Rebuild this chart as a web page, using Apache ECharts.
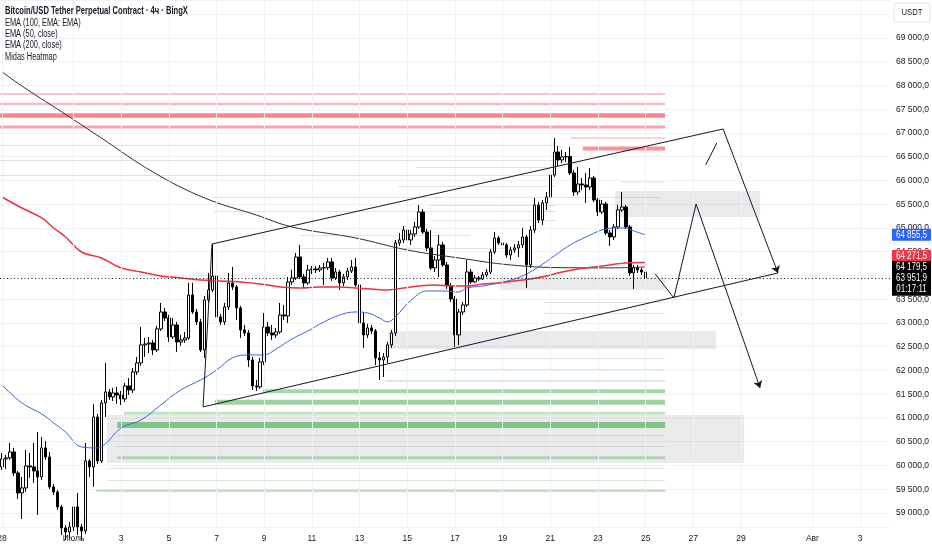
<!DOCTYPE html>
<html><head><meta charset="utf-8">
<script src="https://cdn.jsdelivr.net/npm/echarts@6/dist/echarts.min.js"></script>
<style>html,body{margin:0;padding:0;background:#fff}#c{width:932px;height:550px}</style>
</head><body><div id="c"></div><script>
const FONT = '"Liberation Sans",Arial,sans-serif';
const TXT = '#131722';

// ---- x axis: 4h slots, day ticks ----
const slotCount = 224;
const tickDates  = ['06-28','07-01','07-03','07-05','07-07','07-09','07-11','07-13','07-15','07-17','07-19','07-21','07-23','07-25','07-27','07-29','08-01','08-03'];
const tickLabels = ['28','Июль','3','5','7','9','11','13','15','17','19','21','23','25','27','29','Авг','3'];

// ---- price axis ----
const priceMin = 58705, priceMax = 69800;

// ---- candles [open, close, low, high] (4h, from 28 June 00:00) ----
const candles = [
[59970,60138,59906,60264],[60138,60159,59928,60222],[60159,60285,60117,60475],[60285,59843,59780,60370],
[59843,59422,59296,59885],[59422,59528,58875,59759],[59528,59991,59443,60327],[59991,59970,59738,60264],
[59970,59885,59633,60475],[59885,59759,58959,60706],[59759,60370,59696,60601],[60370,60180,60117,60517],
[60180,59549,59507,60285],[59549,59443,59380,59612],[59443,59128,59065,59485],[59128,58686,58538,59170],
[58686,58601,58433,58749],[58601,58707,58475,58812],[58707,59128,58622,59233],[59128,58707,58538,59422],
[58707,58622,58433,58770],[58622,60096,58559,60475],[60096,59970,59759,60138],[59970,61021,59549,61296],
[61021,60096,60033,61085],[60096,61317,60054,61380],[61317,61548,61021,62159],[61548,61443,61380,61612],
[61443,61527,61359,61633],[61527,61485,61296,61654],[61485,61401,61275,61569],[61401,61675,61338,61738],
[61675,61590,61485,61843],[61590,61969,61527,62054],[61969,62159,61906,62285],[62159,62538,62096,62917],
[62538,62559,62285,62685],[62559,62580,62369,62706],[62580,62433,62327,62643],[62433,62875,62390,62938],
[62875,63232,62832,63422],[63232,63106,63043,63317],[63106,62706,62601,63169],[62706,62959,62664,63106],
[62959,62601,62390,63022],[62601,62643,62517,62748],[62643,62685,62580,62811],[62685,63590,62643,63843],
[63590,63232,63190,63843],[63232,63022,62959,63296],[63022,62433,62390,63085],[62433,63485,62264,63569],
[63485,63696,63422,64053],[63696,63990,63653,64664],[63990,63127,63085,64074],[63127,63022,62959,63190],
[63022,63338,62959,63422],[63338,63843,63274,64053],[63843,63759,63696,64180],[63759,63317,63064,63801],
[63317,62854,62685,63359],[62854,62790,62727,62959],[62790,62222,62075,62854],[62222,61675,61590,62285],
[61675,61654,61569,61801],[61654,62180,61612,62264],[62180,62917,62117,63211],[62917,62790,62727,63022],
[62790,62748,62643,62959],[62748,62811,62685,62896],[62811,63169,62769,63422],[63169,63148,63064,63380],
[63148,63864,63001,63969],[63864,63948,63801,64117],[63948,64390,63906,64474],[64390,63969,63927,64643],
[63969,63843,63738,64032],[63843,64117,63801,64222],[64117,64138,64032,64201],[64138,64117,64053,64201],
[64117,64159,64074,64222],[64159,64165,63801,64264],[64165,64285,64117,64369],[64285,63948,63885,64369],
[63948,64074,63906,64159],[64074,63843,63696,64117],[63843,63969,63780,64032],[63969,64095,63906,64159],
[64095,64180,64053,64327],[64180,63801,63759,64369],[63801,63001,62938,63843],[63001,62748,62475,63232],
[62748,62896,62685,62980],[62896,62832,62769,62959],[62832,62264,62117,62875],[62264,62222,61801,62390],
[62222,62285,61864,62369],[62285,62538,62159,62601],[62538,62790,62475,62854],[62790,64685,62727,64748],
[64685,64748,64622,64895],[64748,64958,64685,65043],[64958,64748,64706,65106],[64748,64874,64643,64958],
[64874,65022,64811,65127],[65022,65337,64980,65485],[65337,64916,64874,65401],[64916,64580,64516,64980],
[64580,64159,64117,64958],[64159,64327,64074,64411],[64327,64643,63969,64853],[64643,64222,64180,64706],
[64222,63780,63717,64285],[63780,63506,63443,63843],[63506,62748,62496,63569],[62748,63232,62538,63296],
[63232,63380,63169,63443],[63380,64074,63338,64327],[64074,63864,63822,64138],[63864,63948,63843,64011],
[63948,63927,63885,63990],[63927,64011,63906,64074],[64011,64074,63969,64138],[64074,64495,64032,64558],
[64495,64790,64453,64916],[64790,64685,64643,64832],[64685,64643,64580,64748],[64643,64432,64369,64685],
[64432,64537,64327,64601],[64537,64580,64474,64664],[64580,64643,64390,64727],[64643,64811,64580,65001],
[64811,64222,63738,64853],[64222,64958,64159,65043],[64958,65485,64895,65632],[65485,65169,65106,65548],
[65169,65527,65064,65590],[65527,65653,65380,65758],[65653,66116,65590,66179],[66116,66600,66074,66895],
[66600,66432,66306,66727],[66432,66495,66369,66643],[66495,66505,66390,66600],[66505,66158,66116,66706],
[66158,65758,65674,66222],[65758,65927,65695,66285],[65927,65906,65801,66053],[65906,65864,65527,66158],
[65864,66053,65801,66264],[66053,65590,65548,66095],[65590,65337,65253,65632],[65337,65506,65295,65590],
[65506,64895,64853,65548],[64895,64811,64622,64958],[64811,65022,64748,65085],[65022,65380,64980,65485],
[65380,65443,65337,65758],[65443,65022,64980,65485],[65022,64053,63990,65064],[64053,64159,63717,64222],
[64159,64117,64053,64222],[64117,64074,64011,64159],[64074,63951.9,63906,64117]
];

// ---- indicator lines [slot index, price] ----
const emaBlack = [[0,68290],[5,67990],[17,67337],[25,66895],[38,66179],[51,65632],[64,65274],[73,65022],[89,64790],[102,64537],[115,64369],[128,64222],[141,64165],[153,64160],[162,64179.5]];
const emaBlue = [[0,61696],[5,61317],[10,61085],[13,60896],[16,60706],[20,60390],[24,60370],[26,60454],[30,60790],[35,60959],[40,61275],[45,61590],[50,61801],[54,62011],[58,62264],[62,62327],[66,62327],[69,62453],[73,62664],[77,62832],[81,63022],[85,63169],[89,63232],[92,63211],[95,63106],[97,63022],[99,63127],[103,63484],[107,63674],[111,63674],[115,63653],[117,63737],[121,63779],[125,63842],[129,63927],[132,64032],[135,64179],[139,64411],[143,64643],[147,64811],[151,64958],[154,65000],[157,65000],[159,64937],[162,64855.5]];
const emaRed = [[0,65653],[5,65421],[10,65211],[13,65000],[16,64811],[20,64495],[25,64369],[30,64158],[35,64074],[40,63990],[45,63948],[50,63906],[55,63885],[60,63864],[65,63822],[70,63759],[75,63738],[80,63759],[85,63759],[89,63738],[93,63717],[97,63696],[101,63738],[105,63780],[109,63800],[113,63780],[117,63780],[121,63822],[125,63843],[129,63885],[133,63927],[137,63990],[141,64074],[145,64137],[149,64180],[153,64222],[157,64264],[162,64271.5]];
const lastPrice = 63951.9, lastBlue = 64855.5, lastRed = 64271.5, lastBlack = 64179.5;
const countdown = '01:17:11';

// ---- heatmap levels ----
const heatEnd = 166.9;
const redLevels = [67821, 67611, 67369, 67127, 66895, 66674, 65969];
const redHalf   = [21, 26, 47, 32, 16, 42, 11];
const redStart  = [-0.5, -0.5, -0.5, -0.5, 143.2, 146.2, 155.6];
const redAlpha  = [0.3, 0.35, 0.6, 0.45, 0.3, 0.55, 0.22];
const greenLevels = [61780, 61563, 61331, 61100, 60853, 60165, 59470];
const greenHalf   = [16, 42, 53, 32, 63, 32, 26];
const greenStart  = [96.4, 65.7, 53.6, 30.7, 29.0, 29.0, 23.7];
const greenAlpha  = [0.3, 0.5, 0.55, 0.35, 0.65, 0.35, 0.35];
const grayLevels = [66748, 66432, 66116, 66285, 65885, 65653, 65485, 65358, 65169, 64853, 64580, 63443, 63211, 62264, 62033, 60643, 60412, 59949, 59696];
const grayStart  = [-0.5, -0.5, -0.5, 104.2, 99.6, 53.3, 107.7, 53.3, 107.7, 75, 75, 136.4, 136.4, 112.7, 112.7, 28.9, 28.9, 26.4, 26.4];
const grayEnd    = [139.4, 139.4, 139.4, 139.4, 139.4, 165.5, 139.4, 139.4, 139.4, 117.7, 127.8, 166.9, 166.9, 166.9, 166.9, 166.9, 166.9, 166.9, 166.9];
// zones [start, end, top price, bottom price]
const zones = [[154.3,190.8,65779,65232],[97.2,179.7,62832,62453],[26.4,186.8,61064,60054],[125.3,166.9,63969,63696]];

// ---- drawings (slot index, price) ----
const channelUpper = [[52.86,64664],[181.5,67085]];
const channelLeft  = [[52.86,64664],[50.6,61233]];
const channelLower = [[50.6,61233],[195.3,64053]];
const pathA = [[164.4,64032],[169.1,63527],[174.7,65506],[190.8,61633]];
const pathB = [[177.1,66327],[179.9,66790]];
const pathC = [[181.5,67085],[195.3,64053]];

// ---- build ----
const categories = [];
for (let k = 0; k < slotCount; k++) {
  const d = new Date(Date.UTC(2024,5,28) + k*4*3600000);
  const p = n => String(n).padStart(2,'0');
  categories.push(p(d.getUTCMonth()+1)+'-'+p(d.getUTCDate())+' '+p(d.getUTCHours())+':00');
}
const tickIndex = {};
categories.forEach((c,k)=>{ const [md,hm]=c.split(' '); if(hm==='00:00'){ const t=tickDates.indexOf(md); if(t>=0) tickIndex[k]=tickLabels[t]; }});

function fmtAxis(v){
  if (v < 58999 || v > 69001 || Math.abs(v/500 - Math.round(v/500)) > 1e-6) return '';
  const s = String(Math.round(v)); return s.slice(0,-3)+' '+s.slice(-3)+',0';
}
function fmtPrice(v){
  const [a,b] = v.toFixed(1).split('.'); return a.slice(0,-3)+' '+a.slice(-3)+','+b;
}

const areaData = [];
zones.forEach(z=>areaData.push([{xAxis:z[0],yAxis:z[2],itemStyle:{color:'rgba(120,123,134,0.16)'}},{xAxis:z[1],yAxis:z[3]}]));
redLevels.forEach((p,i)=>areaData.push([{xAxis:redStart[i],yAxis:p+redHalf[i],itemStyle:{color:'rgba(242,54,69,'+redAlpha[i]+')'}},{xAxis:heatEnd,yAxis:p-redHalf[i]}]));
greenLevels.forEach((p,i)=>areaData.push([{xAxis:greenStart[i],yAxis:p+greenHalf[i],itemStyle:{color:'rgba(76,175,80,'+greenAlpha[i]+')'}},{xAxis:heatEnd,yAxis:p-greenHalf[i]}]));
const grayLineData = grayLevels.map((p,i)=>[{coord:[grayStart[i],p]},{coord:[grayEnd[i],p]}]);

const vGrid = Object.keys(tickIndex).map(k=>({xAxis:+k}));

function segs(pts, arrowLast){
  const out=[];
  for(let i=0;i<pts.length-1;i++){
    const last = arrowLast && i===pts.length-2;
    out.push([{coord:pts[i],symbol:'none'},{coord:pts[i+1],symbol:last?'arrow':'none',symbolSize:last?7:0}]);
  }
  return out;
}
const drawData = [].concat(segs(channelUpper), segs(channelLeft), segs(channelLower), segs(pathA,true), segs(pathB), segs(pathC,true));

const chart = echarts.init(document.getElementById('c'));
chart.setOption({
  animation:false,
  backgroundColor:'#ffffff',
  grid:{left:0,right:42,top:0,bottom:23,containLabel:false,outerBoundsMode:'none'},
  xAxis:[
    {type:'category',data:categories,boundaryGap:true,
     axisLine:{show:false},axisTick:{show:false},splitLine:{show:false},
     axisLabel:{interval:(i)=>tickIndex[i]!==undefined,formatter:(v,i)=>tickIndex[i]||'',color:TXT,fontSize:8.5,fontFamily:FONT,margin:7}},
    {type:'value',min:-0.5,max:slotCount-0.5,show:false}
  ],
  yAxis:{type:'value',position:'right',min:priceMin,max:priceMax,splitNumber:22,
    axisLine:{show:false},axisTick:{show:false},
    splitLine:{lineStyle:{color:'#f0f1f3',width:1}},
    axisLabel:{formatter:fmtAxis,color:TXT,fontSize:8.5,fontFamily:FONT,margin:6,showMinLabel:false,showMaxLabel:false}},
  series:[
    {type:'line',xAxisIndex:1,data:[[-50,60000]],showSymbol:false,silent:true,z:0,
     markLine:{silent:true,symbol:['none','none'],label:{show:false},lineStyle:{color:'#f0f1f3',width:1,type:'solid'},data:vGrid}},
    {type:'line',xAxisIndex:1,data:[[-50,60000]],showSymbol:false,silent:true,z:1,
     markArea:{silent:true,label:{show:false},data:areaData},
     markLine:{silent:true,symbol:['none','none'],label:{show:false},lineStyle:{color:'rgba(120,123,134,0.22)',width:1,type:'solid'},data:grayLineData}},
    {type:'candlestick',name:'BTCUSDT',data:candles,barWidth:3,z:3,
     itemStyle:{color:'#ffffff',color0:'#000000',borderColor:'#000000',borderColor0:'#000000',borderWidth:1}},
    {type:'line',xAxisIndex:1,data:emaBlack,smooth:0.4,showSymbol:false,z:4,lineStyle:{color:'#2a2e39',width:1}},
    {type:'line',xAxisIndex:1,data:emaBlue,smooth:0.4,showSymbol:false,z:4,lineStyle:{color:'#3b63ea',width:1}},
    {type:'line',xAxisIndex:1,data:emaRed,smooth:0.4,showSymbol:false,z:4,lineStyle:{color:'#e8323f',width:1.5}},
    {type:'line',xAxisIndex:1,data:[[-50,60000]],showSymbol:false,silent:true,z:5,
     markLine:{silent:true,symbol:['none','none'],symbolSize:7,label:{show:false},lineStyle:{color:'#131722',width:1,type:'solid'},
       data:drawData.concat([{yAxis:lastPrice,lineStyle:{color:'#131722',type:[1,2.5],width:1}}])}}
  ]
});

const yOf = v => chart.convertToPixel({yAxisIndex:0}, v);
const gfx = [];
const legend = [
  ['Bitcoin/USD Tether Perpetual Contract · 4ч · BingX', 'bold'],
  ['EMA (100, EMA: EMA)', 'normal'],['EMA (50, close)','normal'],['EMA (200, close)','normal'],['Midas Heatmap','normal']
];
const legendY = [11, 23.5, 34.5, 45.5, 57];
legend.forEach((l,i)=>gfx.push({type:'text',x:5,y:legendY[i],scaleX:l[1]==='bold'?0.76:0.74,z:100,style:{text:l[0],fill:TXT,font:l[1]+' 10px '+FONT,verticalAlign:'middle'}}));
gfx.push({type:'rect',shape:{x:894,y:3,width:36,height:19,r:2},z:100,style:{fill:'#fff',stroke:'#e0e3eb',lineWidth:1}});
gfx.push({type:'text',x:912,y:12.5,scaleX:0.85,z:101,style:{text:'USDT',fill:TXT,font:'9px '+FONT,align:'center',verticalAlign:'middle'}});
function box(yc, h, bg, lines){
  gfx.push({type:'rect',shape:{x:892,y:yc-h/2,width:39,height:h},z:100,style:{fill:bg}});
  lines.forEach((t,i)=>gfx.push({type:'text',x:911.5,y:yc-h/2+6+i*11.5,scaleX:0.8,z:101,style:{text:t,fill:'#fff',font:'10px '+FONT,align:'center',verticalAlign:'middle'}}));
}
box(yOf(lastBlue), 12, '#2962ff', [fmtPrice(lastBlue)]);
box(yOf(lastRed)-6.5, 12, '#f23645', [fmtPrice(lastRed)]);
box(yOf(lastBlack), 12, '#000000', [fmtPrice(lastBlack)]);
box(yOf(lastPrice)+6, 24, '#000000', [fmtPrice(lastPrice), countdown]);
chart.setOption({graphic:gfx});
</script></body></html>
